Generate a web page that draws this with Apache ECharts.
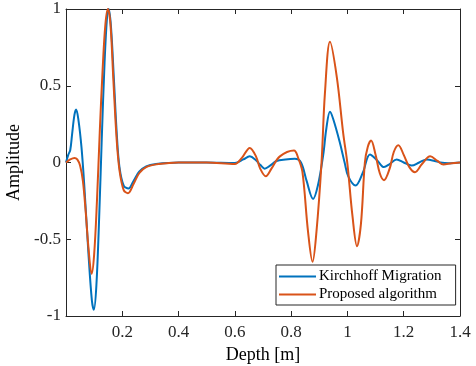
<!DOCTYPE html>
<html>
<head>
<meta charset="utf-8">
<script src="https://cdn.jsdelivr.net/npm/echarts@6/dist/echarts.min.js"></script>
<style>
  html, body { margin: 0; padding: 0; background: #fff; }
  #chart { width: 476px; height: 366px; }
</style>
</head>
<body>
<div id="chart"></div>
<script>
// depth [m], amplitude
const kirchhoff = [
  [0, 0], [0.008, 0.05], [0.015, 0.08], [0.022, 0.19], [0.03, 0.31], [0.036, 0.345],
  [0.044, 0.28], [0.055, 0.1], [0.065, -0.15], [0.08, -0.6], [0.092, -0.9], [0.099, -0.96],
  [0.108, -0.8], [0.118, -0.35], [0.127, 0.15], [0.137, 0.65], [0.146, 0.95], [0.152, 1.0],
  [0.16, 0.88], [0.17, 0.55], [0.18, 0.2], [0.19, -0.03], [0.205, -0.15], [0.222, -0.17],
  [0.24, -0.12], [0.26, -0.06], [0.285, -0.025], [0.32, -0.01], [0.4, 0], [0.5, 0],
  [0.6, -0.003], [0.63, 0.02], [0.653, 0.04], [0.675, 0.015], [0.69, -0.015], [0.706, -0.04],
  [0.725, -0.02], [0.748, 0.01], [0.78, 0.02], [0.813, 0.024], [0.835, 0.0], [0.855, -0.12],
  [0.878, -0.237], [0.895, -0.15], [0.914, 0.05], [0.925, 0.22], [0.938, 0.33], [0.95, 0.28],
  [0.973, 0.13], [0.99, 0.0], [1.003, -0.09], [1.029, -0.15], [1.055, -0.065], [1.08, 0.052],
  [1.105, 0.015], [1.13, -0.03], [1.15, -0.01], [1.175, 0.02], [1.2, 0.0], [1.228, -0.02],
  [1.255, 0.0], [1.282, 0.02], [1.31, 0.01], [1.33, 0.0], [1.36, -0.005], [1.4, 0]
];
const proposed = [
  [0, 0], [0.015, 0.02], [0.03, 0.03], [0.04, 0.02], [0.05, -0.02], [0.06, -0.12],
  [0.07, -0.32], [0.08, -0.56], [0.091, -0.725], [0.1, -0.6], [0.11, -0.25], [0.12, 0.2],
  [0.13, 0.6], [0.14, 0.9], [0.149, 1.0], [0.158, 0.9], [0.168, 0.55], [0.18, 0.15],
  [0.19, -0.05], [0.205, -0.18], [0.22, -0.2], [0.24, -0.14], [0.26, -0.07], [0.285, -0.03],
  [0.33, -0.01], [0.4, 0], [0.5, 0], [0.6, -0.01], [0.625, 0.03], [0.653, 0.095],
  [0.675, 0.04], [0.69, -0.04], [0.71, -0.09], [0.73, -0.04], [0.76, 0.04], [0.81, 0.078],
  [0.825, 0.03], [0.84, -0.06], [0.86, -0.45], [0.876, -0.647], [0.89, -0.45], [0.908, 0.0],
  [0.92, 0.45], [0.938, 0.786], [0.962, 0.56], [0.985, 0.19], [1.0, -0.01], [1.018, -0.35],
  [1.034, -0.545], [1.048, -0.4], [1.062, 0.0], [1.072, 0.1], [1.084, 0.143], [1.1, 0.05],
  [1.115, -0.07], [1.13, -0.115], [1.15, -0.04], [1.165, 0.07], [1.181, 0.113], [1.2, 0.05],
  [1.22, -0.03], [1.24, -0.063], [1.265, -0.01], [1.294, 0.04], [1.32, 0.01], [1.341, -0.013],
  [1.37, -0.005], [1.4, 0]
];
const xTicks = ['', '0.2', '0.4', '0.6', '0.8', '1', '1.2', '1.4'];
const yTicks = { '-1': '-1', '-0.5': '-0.5', '0': '0', '0.5': '0.5', '1': '1' };

const font = 'Liberation Serif';
const axisColor = '#262626';

const myChart = echarts.init(document.getElementById('chart'));

const frameAxis = {
  axisLine: { show: true, onZero: false, lineStyle: { color: axisColor, width: 1 } },
  axisTick: { show: true, inside: true, length: 5, lineStyle: { color: axisColor } },
  splitLine: { show: false },
};

const option = {
  animation: false,
  grid: { left: 66, right: 16, top: 9, bottom: 50, outerBoundsMode: 'none', containLabel: false },
  xAxis: [
    {
      ...frameAxis,
      type: 'value',
      min: 0,
      max: 1.4,
      interval: 0.2,
      name: 'Depth [m]',
      nameLocation: 'middle',
      nameGap: 29,
      nameTextStyle: { fontFamily: font, fontSize: 18, color: '#000' },
      axisLabel: {
        fontFamily: font, fontSize: 17, color: '#262626', margin: 8,
        formatter: (v) => xTicks[Math.round(v / 0.2)],
      },
    },
    {
      ...frameAxis,
      type: 'value',
      position: 'top',
      min: 0,
      max: 1.4,
      interval: 0.2,
      axisLabel: { show: false },
    },
  ],
  yAxis: [
    {
      ...frameAxis,
      type: 'value',
      min: -1,
      max: 1,
      interval: 0.5,
      name: 'Amplitude',
      nameLocation: 'middle',
      nameGap: 33,
      nameTextStyle: { fontFamily: font, fontSize: 18, color: '#000' },
      axisLabel: {
        fontFamily: font, fontSize: 17, color: '#262626', margin: 5,
        formatter: (v) => yTicks[String(v)],
      },
    },
    {
      ...frameAxis,
      type: 'value',
      position: 'right',
      min: -1,
      max: 1,
      interval: 0.5,
      axisLabel: { show: false },
    },
  ],
  legend: {
    left: 276,
    top: 265,
    orient: 'vertical',
    backgroundColor: '#fff',
    borderColor: axisColor,
    borderWidth: 1,
    padding: [4, 14, 3, 3],
    itemGap: 3,
    itemWidth: 37,
    itemHeight: 2,
    icon: 'rect',
    textStyle: { fontFamily: font, fontSize: 15, color: '#000', padding: [0, 0, 0, -2] },
    data: ['Kirchhoff Migration', 'Proposed algorithm'],
  },
  series: [
    {
      name: 'Kirchhoff Migration',
      type: 'line',
      data: kirchhoff,
      smooth: 0.35,
      showSymbol: false,
      lineStyle: { color: '#0072BD', width: 2 },
      itemStyle: { color: '#0072BD' },
    },
    {
      name: 'Proposed algorithm',
      type: 'line',
      data: proposed,
      smooth: 0.35,
      showSymbol: false,
      lineStyle: { color: '#D95319', width: 2 },
      itemStyle: { color: '#D95319' },
    },
  ],
};

option && myChart.setOption(option);
</script>
</body>
</html>
